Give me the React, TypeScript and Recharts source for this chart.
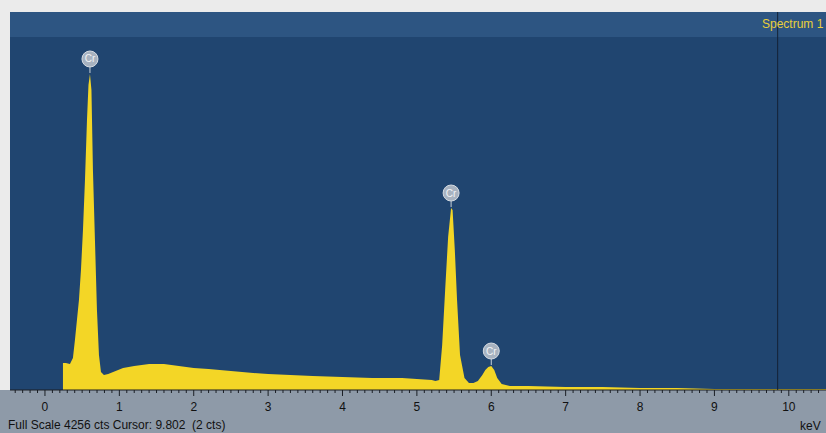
import React from "react";
import {
  ComposedChart,
  Area,
  XAxis,
  YAxis,
  CartesianGrid,
  ReferenceArea,
  ReferenceLine,
  ReferenceDot,
} from "recharts";

// energy (keV) and counts
const energies = [
  0.242, 0.282, 0.336, 0.376, 0.403, 0.43, 0.457, 0.484, 0.511, 0.538, 0.565,
  0.585, 0.605, 0.625, 0.645, 0.672, 0.699, 0.726, 0.753, 0.793, 0.85, 0.95,
  1.05, 1.2, 1.4, 1.6, 1.8, 2.0, 2.2, 2.5, 2.8, 3.0, 3.3, 3.6, 4.0, 4.4, 4.8,
  5.0, 5.2, 5.25, 5.3, 5.34, 5.38, 5.42, 5.46, 5.48, 5.51, 5.54, 5.58, 5.64,
  5.7, 5.76, 5.82, 5.88, 5.92, 5.96, 6.0, 6.04, 6.08, 6.14, 6.25, 6.5, 7.0,
  7.5, 8.0, 8.5, 9.0, 10.5,
];
const counts = [
  304, 304, 293, 360, 563, 788, 1013, 1351, 1802, 2365, 3040,
  3434, 3558, 3378, 2477, 1689, 901, 394, 203, 169, 180, 214,
  248, 270, 293, 293, 270, 248, 236, 214, 191, 180, 169, 158, 146, 135, 135,
  124, 113, 100, 113, 507, 1126, 1723, 2049, 2027, 1576, 1013, 394, 135,
  79, 79, 101, 169, 225, 259, 270, 225, 135, 68, 45, 45, 34,
  34, 23, 23, 11, 11,
];

const peakNames = ["Cr", "Cr", "Cr"];
const peakEnergies = [0.605, 5.46, 6.0];
const peakCounts = [3558, 2049, 270];

const majorTicks = [0, 1, 2, 3, 4, 5, 6, 7, 8, 9, 10];
const allTicks = Array.from({ length: 109 }, (_, i) => Math.round((-0.4 + i * 0.1) * 10) / 10);

const fullScale = 4256;
const cursorKev = 9.85;

const data = energies.map((kev, i) => ({ kev, counts: counts[i] }));

const FONT = "'Liberation Sans', Arial, sans-serif";

const Tick = (props: any) => {
  const { x, y, payload } = props;
  const v = payload.value;
  const major = majorTicks.includes(v);
  return (
    <g>
      <line x1={x} x2={x} y1={y} y2={y + (major ? 6 : 3)} stroke="#1b1f25" strokeWidth={1} />
      {major && (
        <text x={x} y={y + 21} textAnchor="middle" fontSize={12} fontFamily={FONT} fill="#111">
          {v}
        </text>
      )}
    </g>
  );
};

const PeakMark = (name: string) => (props: any) => {
  const { cx, cy } = props;
  return (
    <g>
      <line x1={cx} x2={cx} y1={cy - 1} y2={cy - 8} stroke="#c9d0d8" strokeWidth={1} />
      <circle cx={cx} cy={cy - 15} r={8} fill="#a7b2c0" stroke="#d5dbe2" strokeWidth={1} />
      <text x={cx} y={cy - 11.5} textAnchor="middle" fontSize={10} fontFamily={FONT} fill="#f2f4f7">
        {name}
      </text>
    </g>
  );
};

export default function App() {
  return (
    <div style={{ position: "absolute", left: 0, top: 0, width: 826, height: 433, background: "#8e9aa8", overflow: "hidden" }}>
      <div style={{ position: "absolute", left: 0, top: 0, width: 826, height: 12, background: "#ebebeb" }} />
      <div style={{ position: "absolute", left: 0, top: 0, width: 10, height: 390, background: "#ebebeb" }} />
      <div style={{ position: "absolute", left: 0, top: 0 }}>
        <ComposedChart width={826} height={433} data={data} margin={{ top: 12, right: 0, bottom: 0, left: 10 }}>
          <CartesianGrid horizontal={false} vertical={false} fill="#204570" fillOpacity={1} />
          <XAxis
            dataKey="kev"
            type="number"
            domain={[-0.47, 10.5]}
            allowDataOverflow
            ticks={allTicks}
            interval={0}
            height={43}
            tickSize={0}
            tickMargin={0}
            tickLine={false}
            axisLine={{ stroke: "#1b1f25" }}
            tick={<Tick />}
          />
          <YAxis hide domain={[0, fullScale]} allowDataOverflow />
          <ReferenceArea
            x1={-0.47}
            x2={10.5}
            y1={3975}
            y2={fullScale}
            fill="#2d5582"
            fillOpacity={1}
            stroke="none"
          />
          <Area
            dataKey="counts"
            type="linear"
            fill="#f3d626"
            fillOpacity={1}
            stroke="none"
            baseValue={0}
            isAnimationActive={false}
          />
          <ReferenceLine x={cursorKev} stroke="#142236" strokeWidth={1} />
          {peakNames.map((name, i) => (
            <ReferenceDot
              key={i}
              x={peakEnergies[i]}
              y={peakCounts[i]}
              r={8}
              shape={PeakMark(name)}
            />
          ))}
        </ComposedChart>
      </div>
      <div style={{ position: "absolute", left: 762, top: 17, fontFamily: FONT, fontSize: 12, color: "#e8cf3a", whiteSpace: "nowrap" }}>
        Spectrum 1
      </div>
      <div style={{ position: "absolute", left: 8, top: 418, fontFamily: FONT, fontSize: 12, color: "#111", whiteSpace: "pre" }}>
        Full Scale 4256 cts Cursor: 9.802  (2 cts)
      </div>
      <div style={{ position: "absolute", left: 800, top: 419, fontFamily: FONT, fontSize: 12, color: "#111", whiteSpace: "nowrap" }}>
        keV
      </div>
    </div>
  );
}
